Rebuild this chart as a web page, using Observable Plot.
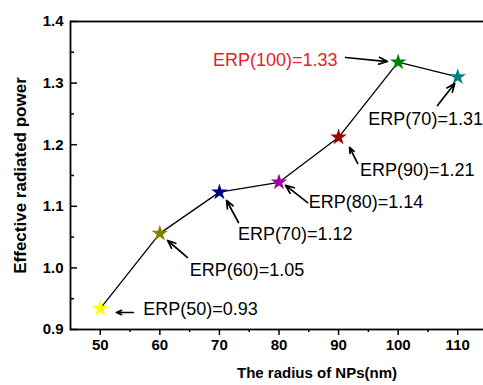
<!DOCTYPE html>
<html><head><meta charset="utf-8">
<script src="https://cdn.jsdelivr.net/npm/d3@7"></script>
<script src="https://cdn.jsdelivr.net/npm/@observablehq/plot@0.6"></script>
<style>html,body{margin:0;padding:0;background:#fff;overflow:hidden}</style>
</head><body><div id="chart"></div>
<script>
const radius = [50, 60, 70, 80, 90, 100, 110];
const erp = [0.934, 1.056, 1.123, 1.139, 1.212, 1.334, 1.310];
const starColors = ["#ffff00", "#808000", "#000080", "#a000a0", "#a00000", "#008000", "#008080"];
const labels = ["ERP(50)=0.93", "ERP(60)=1.05", "ERP(70)=1.12", "ERP(80)=1.14", "ERP(90)=1.21", "ERP(100)=1.33", "ERP(70)=1.31"];
const labelColors = ["#000000", "#000000", "#000000", "#000000", "#000000", "#e8202a", "#000000"];
const labelX = [57.2, 65.0, 73.1, 85.0, 93.6, 68.9, 95.0];
const labelY = [0.933, 0.996, 1.055, 1.107, 1.158, 1.3375, 1.242];
const arrowX1 = [55.55, 64.6, 73.2, 84.8, 93.2, 91.2, 106.6];
const arrowY1 = [0.9276, 1.017, 1.0737, 1.106, 1.1695, 1.3416, 1.2636];
const arrowX2 = [52.7, 61.3, 71.2, 81.1, 91.85, 98.2, 109.5];
const arrowY2 = [0.9276, 1.0445, 1.1094, 1.134, 1.1955, 1.335, 1.2994];
const xTicks = [50, 60, 70, 80, 90, 100, 110];
const xMinor = [55, 65, 75, 85, 95, 105];
const yTicks = [0.9, 1.0, 1.1, 1.2, 1.3, 1.4];
const yMinor = [0.95, 1.05, 1.15, 1.25, 1.35];
const xTitle = "The radius of NPs(nm)";
const yTitle = "Effective radiated power";

const idx = d3.range(radius.length);
const font = "'Liberation Sans', Arial, sans-serif";

const chart = Plot.plot({
  width: 490,
  height: 385,
  marginLeft: 70,
  marginRight: 3,
  marginTop: 21,
  marginBottom: 56,
  style: {maxWidth: "none", fontFamily: font, background: "#fff", overflow: "visible"},
  x: {domain: [45, 115]},
  y: {domain: [0.9, 1.4]},
  color: {type: "identity"},
  marks: [
    Plot.axisX(xTicks, {tickSize: 6, tickPadding: 4, fontSize: 15, fontWeight: "bold", label: null, strokeWidth: 1.5}),
    Plot.axisX(xMinor, {tickSize: 3, tickFormat: () => "", label: null, strokeWidth: 1.5}),
    Plot.axisY(yTicks, {tickSize: -7, tickPadding: 14, fontSize: 15, fontWeight: "bold", tickFormat: d3.format(".1f"), label: null, strokeWidth: 1.5}),
    Plot.axisY(yMinor, {tickSize: -4, tickFormat: () => "", label: yTitle, labelAnchor: "center", labelArrow: "none", labelOffset: 57, fontSize: 17, fontWeight: "bold", strokeWidth: 1.5}),
    Plot.frame({stroke: "black", strokeWidth: 1.8}),
    Plot.line(idx, {x: i => radius[i], y: i => erp[i], stroke: "black", strokeWidth: 1.3}),
    Plot.dot(idx, {x: i => radius[i], y: i => erp[i], symbol: "star", r: 5.2, fill: i => starColors[i], stroke: "none"}),
    Plot.arrow(idx, {x1: i => arrowX1[i], y1: i => arrowY1[i], x2: i => arrowX2[i], y2: i => arrowY2[i], stroke: "black", strokeWidth: 1.7, headLength: 8, headAngle: 45}),
    Plot.text(idx, {x: i => labelX[i], y: i => labelY[i], text: i => labels[i], fill: i => labelColors[i], textAnchor: "start", fontSize: 18}),
    Plot.text([xTitle], {frameAnchor: "bottom", dx: 38, dy: 48, fontSize: 15, fontWeight: "bold", fill: "black"})
  ]
});
document.getElementById("chart").appendChild(chart);
</script>
</body></html>
